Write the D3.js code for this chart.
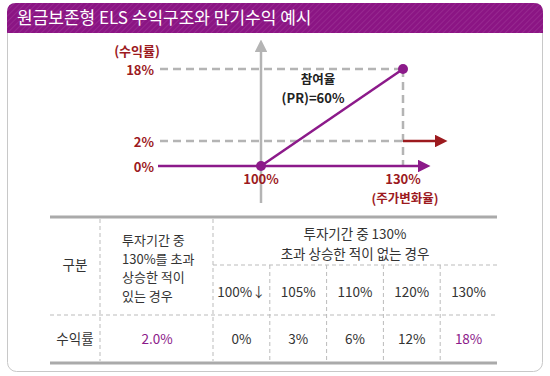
<!DOCTYPE html>
<html>
<head>
<meta charset="utf-8">
<script src="https://cdn.jsdelivr.net/npm/d3@7"></script>
<style>
  body { margin: 0; background: #fff; }
  svg { display: block; font-family: "Noto Sans CJK KR", "Noto Sans", sans-serif; }
</style>
</head>
<body>
<div id="chart"></div>
<script>
// chart data
const titleText = '원금보존형 ELS 수익구조와 만기수익 예시';
const yTicks = [0, 2, 18];
const yTickLabels = ['0%', '2%', '18%'];
const xTicks = [100, 130];
const xTickLabels = ['100%', '130%'];
const payoffLine = [[100, 0], [130, 18]];
const rebateLevel = 2;

// table data
const colHeaders = ['100%↓', '105%', '110%', '120%', '130%'];
const rowValues = ['0%', '3%', '6%', '12%', '18%'];
const knockOutValue = '2.0%';

const width = 550, height = 376;
const purple = '#8c1a8a', darkRed = '#9c1a1e', grid = '#b4b4b4';

const svg = d3.select('#chart').append('svg')
    .attr('width', width)
    .attr('height', height);

// frame + title bar
const defs = svg.append('defs');
const pat = defs.append('pattern')
    .attr('id', 'stripes')
    .attr('width', 4).attr('height', 4)
    .attr('patternUnits', 'userSpaceOnUse')
    .attr('patternTransform', 'rotate(45)');
pat.append('rect').attr('width', 4).attr('height', 4).attr('fill', '#8b1584');
pat.append('rect').attr('width', 1).attr('height', 4).attr('fill', '#96288f');

svg.append('rect')
    .attr('x', 7.5).attr('y', 3.5)
    .attr('width', 535).attr('height', 368)
    .attr('rx', 9)
    .attr('fill', '#fff')
    .attr('stroke', '#c8c8c8');

svg.append('path')
    .attr('d', 'M7,33 L7,12 Q7,3 16,3 L534,3 Q543,3 543,12 L543,33 Z')
    .attr('fill', 'url(#stripes)');

svg.append('text')
    .attr('x', 17).attr('y', 24)
    .attr('fill', '#fff')
    .attr('font-size', 17)
    .text(titleText);

// chart scales
const x = d3.scaleLinear().domain([100, 130]).range([261, 403]);
const y = d3.scaleLinear().domain(yTicks).range([166, 141, 69]);

const chart = svg.append('g');

function arrowMarker(id, color) {
    defs.append('marker')
        .attr('id', id)
        .attr('viewBox', '0 0 10 10').attr('refX', 0).attr('refY', 5)
        .attr('markerWidth', 5).attr('markerHeight', 5).attr('markerUnits', 'strokeWidth')
        .attr('orient', 'auto')
        .append('path').attr('d', 'M0,0 L10,5 L0,10 Z').attr('fill', color);
}
arrowMarker('arrowPurple', purple);
arrowMarker('arrowRed', darkRed);
arrowMarker('arrowGray', '#b4b4b4');

// dashed guides
chart.selectAll('.guide-h')
    .data(yTicks.filter(d => d > 0))
    .enter().append('line')
    .attr('x1', 160).attr('x2', x(130))
    .attr('y1', d => y(d)).attr('y2', d => y(d))
    .attr('stroke', grid).attr('stroke-width', 2.5)
    .attr('stroke-dasharray', '8,5');

chart.append('line')
    .attr('x1', x(130)).attr('x2', x(130))
    .attr('y1', y(18)).attr('y2', y(0))
    .attr('stroke', grid).attr('stroke-width', 2.5)
    .attr('stroke-dasharray', '8,5');

// y axis (gray, arrow up)
chart.append('line')
    .attr('x1', x(100)).attr('x2', x(100))
    .attr('y1', 203).attr('y2', 52)
    .attr('stroke', '#b4b4b4').attr('stroke-width', 2.5)
    .attr('marker-end', 'url(#arrowGray)');

// x axis (purple, arrow right)
chart.append('line')
    .attr('x1', 158).attr('x2', 418)
    .attr('y1', y(0)).attr('y2', y(0))
    .attr('stroke', purple).attr('stroke-width', 2.5)
    .attr('marker-end', 'url(#arrowPurple)');

// rebate arrow
chart.append('line')
    .attr('x1', x(130)).attr('x2', 435)
    .attr('y1', y(rebateLevel)).attr('y2', y(rebateLevel))
    .attr('stroke', darkRed).attr('stroke-width', 2.5)
    .attr('marker-end', 'url(#arrowRed)');

// payoff line
chart.append('path')
    .datum(payoffLine)
    .attr('d', d3.line().x(d => x(d[0])).y(d => y(d[1])))
    .attr('fill', 'none')
    .attr('stroke', purple).attr('stroke-width', 2.5);

chart.selectAll('.pt')
    .data(payoffLine)
    .enter().append('circle')
    .attr('cx', d => x(d[0])).attr('cy', d => y(d[1]))
    .attr('r', 5)
    .attr('fill', purple);

const label = (parent, xx, yy, s, anchor, color, size, weight) => parent.append('text')
    .attr('x', xx).attr('y', yy)
    .attr('text-anchor', anchor)
    .attr('fill', color).attr('font-size', size).attr('font-weight', weight)
    .text(s);

// y labels
chart.selectAll('.ylab')
    .data(yTicks)
    .enter().append('text')
    .attr('x', 154).attr('y', d => y(d) + 6)
    .attr('text-anchor', 'end')
    .attr('fill', darkRed).attr('font-size', 13).attr('font-weight', 'bold')
    .text((d, i) => yTickLabels[i]);
label(chart, 137, 56, '(수익률)', 'middle', darkRed, 13, 'bold');

// x labels
chart.selectAll('.xlab')
    .data(xTicks)
    .enter().append('text')
    .attr('x', d => x(d)).attr('y', 184)
    .attr('text-anchor', 'middle')
    .attr('fill', darkRed).attr('font-size', 13).attr('font-weight', 'bold')
    .text((d, i) => xTickLabels[i]);
label(chart, x(130) + 2, 202.5, '(주가변화율)', 'middle', darkRed, 12.5, 'bold');

label(chart, 318, 84, '참여율', 'middle', '#222', 12.5, 'bold');
label(chart, 313, 103, '(PR)=60%', 'middle', '#222', 13, 'bold');

// table
const table = svg.append('g');
const tLeft = 50, tRight = 497, tTop = 217, tSub = 265, tRow = 315, tBottom = 363;
const colX = d3.scaleBand()
    .domain(colHeaders)
    .range([213, tRight]);
const textColor = '#333';

table.append('line')
    .attr('x1', tLeft).attr('x2', tRight).attr('y1', tTop).attr('y2', tTop)
    .attr('stroke', '#aaa').attr('stroke-width', 3);
table.append('line')
    .attr('x1', tLeft).attr('x2', tRight).attr('y1', tBottom).attr('y2', tBottom)
    .attr('stroke', '#aaa').attr('stroke-width', 3);

const dash = sel => sel.attr('stroke', '#bbb').attr('stroke-width', 1).attr('stroke-dasharray', '4,3');

dash(table.append('line')
    .attr('x1', tLeft).attr('x2', tRight).attr('y1', tRow).attr('y2', tRow));
dash(table.append('line')
    .attr('x1', 213).attr('x2', tRight).attr('y1', tSub).attr('y2', tSub));
[100, 213].forEach(v => dash(table.append('line')
    .attr('x1', v).attr('x2', v).attr('y1', tTop + 2).attr('y2', tBottom - 2)));
colHeaders.slice(1).forEach(c => dash(table.append('line')
    .attr('x1', colX(c)).attr('x2', colX(c)).attr('y1', tSub).attr('y2', tBottom - 2)));

const txt = (xx, yy, s, anchor, color) => label(table, xx, yy, s, anchor || 'middle', color || textColor, 13.5, 'normal');

txt(75, 270, '구분');
txt(75, 344, '수익률');

['투자기간 중', '130%를 초과', '상승한 적이', '있는 경우']
    .forEach((s, i) => label(table, 122, 245 + i * 18.5, s, 'start', textColor, 13, 'normal'));
txt(157, 344, knockOutValue, 'middle', purple);

['투자기간 중 130%', '초과 상승한 적이 없는 경우']
    .forEach((s, i) => txt(355, 239 + i * 19.5, s));

colHeaders.forEach(c => txt(colX(c) + colX.bandwidth() / 2, 297, c));
rowValues.forEach((v, i) => txt(colX(colHeaders[i]) + colX.bandwidth() / 2, 344, v,
    'middle', i === rowValues.length - 1 ? purple : textColor));
</script>
</body>
</html>
